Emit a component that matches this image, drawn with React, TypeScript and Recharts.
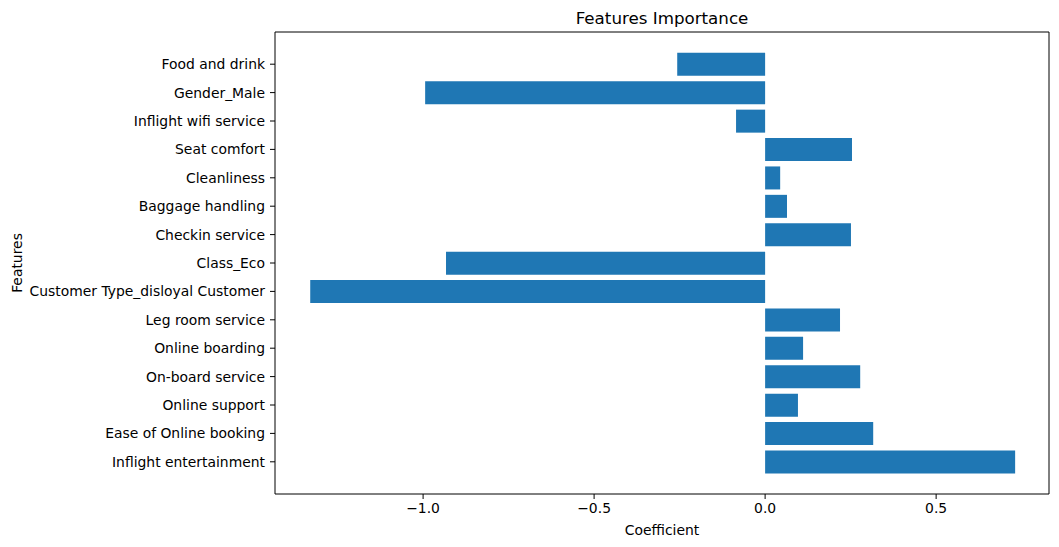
import { BarChart, Bar, XAxis, YAxis } from "recharts";

// Logistic-regression coefficients per feature.
const features = [
  "Food and drink",
  "Gender_Male",
  "Inflight wifi service",
  "Seat comfort",
  "Cleanliness",
  "Baggage handling",
  "Checkin service",
  "Class_Eco",
  "Customer Type_disloyal Customer",
  "Leg room service",
  "Online boarding",
  "On-board service",
  "Online support",
  "Ease of Online booking",
  "Inflight entertainment",
];

const coefficients = [
  -0.257, -0.994, -0.085, 0.254, 0.044, 0.064, 0.251, -0.933, -1.33, 0.219,
  0.111, 0.278, 0.096, 0.316, 0.731,
];

const xTicks = [-1.0, -0.5, 0.0, 0.5];
const xDomain = [-1.433, 0.83];

const data = features.map((feature, i) => ({ feature, coef: coefficients[i] }));

const FONT = "'DejaVu Sans', sans-serif";
const BLUE = "#1f77b4";

const fmt = (v: number) => {
  const s = Math.abs(v).toFixed(1);
  return v < 0 ? "\u2212" + s : s;
};

const FeaturesLabel = (props: any) => {
  const vb = props.viewBox || {};
  const x = vb.x + 17;
  const y = vb.y + vb.height / 2;
  return (
    <text
      x={x}
      y={y}
      transform={`rotate(-90, ${x}, ${y})`}
      textAnchor="middle"
      dominantBaseline="central"
      fill="#000"
      fontSize={13.9}
      fontFamily={FONT}
    >
      Features
    </text>
  );
};

export default function App() {
  return (
    <div style={{ position: "absolute", left: 0, top: 0, width: 1059, height: 547, background: "#fff" }}>
      <div
        style={{
          position: "absolute",
          left: 275,
          width: 774,
          top: 8,
          textAlign: "center",
          fontFamily: FONT,
          fontSize: 16.7,
          color: "#000",
        }}
      >
        Features Importance
      </div>
      <BarChart
        width={1059}
        height={547}
        data={data}
        layout="vertical"
        barCategoryGap="10%"
        margin={{ top: 31, right: 9, bottom: 0, left: 0 }}
      >
        <XAxis
          type="number"
          dataKey="coef"
          domain={xDomain}
          allowDataOverflow
          ticks={xTicks}
          tickFormatter={fmt}
          height={53}
          stroke="#000"
          tickSize={5}
          tickMargin={4}
          tick={{ fill: "#000", fontSize: 13.9, fontFamily: FONT }}
          label={{ value: "Coefficient", position: "insideBottom", offset: 12, fill: "#000", fontSize: 13.9, fontFamily: FONT }}
        />
        {/* top spine */}
        <XAxis
          xAxisId="top"
          orientation="top"
          type="number"
          domain={xDomain}
          allowDataOverflow
          height={1}
          tick={false}
          tickLine={false}
          stroke="#000"
        />
        <YAxis
          type="category"
          dataKey="feature"
          width={275}
          padding={{ top: 18, bottom: 18 }}
          stroke="#000"
          tickSize={5}
          tickMargin={5}
          interval={0}
          tick={{ fill: "#000", fontSize: 13.9, fontFamily: FONT }}
          label={<FeaturesLabel />}
        />
        {/* right spine */}
        <YAxis
          yAxisId="right"
          orientation="right"
          type="category"
          dataKey="feature"
          width={1}
          tick={false}
          tickLine={false}
          stroke="#000"
        />
        <Bar dataKey="coef" fill={BLUE} isAnimationActive={false} />
      </BarChart>
    </div>
  );
}
